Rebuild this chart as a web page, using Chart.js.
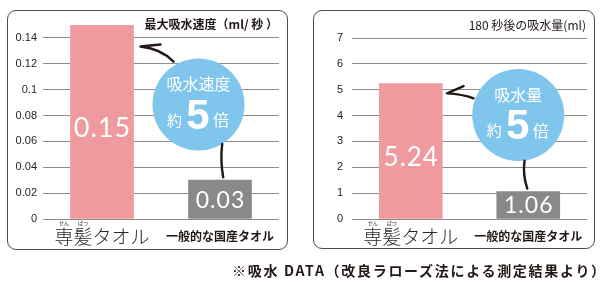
<!DOCTYPE html>
<html><head><meta charset="utf-8">
<script src="https://cdn.jsdelivr.net/npm/chart.js@4"></script>
<style>
html,body{margin:0;padding:0;background:#fff;}
body{width:600px;height:284px;position:relative;overflow:hidden;font-family:"Noto Sans CJK JP",sans-serif;}
.panel{position:absolute;border:1.5px solid #4d4d4d;border-radius:9px;box-sizing:border-box;}
.wrap{position:absolute;left:0;top:0;width:600px;height:284px;}
#note{position:absolute;left:232px;top:261px;font-weight:bold;font-size:14px;font-family:"Noto Sans CJK JP",sans-serif;letter-spacing:1.7px;color:#231815;white-space:nowrap;line-height:18px;}
</style></head><body>
<div class="panel" style="left:7px;top:10px;width:281px;height:240px"></div>
<div class="panel" style="left:313px;top:10px;width:282px;height:239px"></div>
<div class="wrap"><canvas id="c1" width="600" height="284"></canvas></div>
<div class="wrap"><canvas id="c2" width="600" height="284"></canvas></div>
<div id="note">※吸水 DATA（改良ラローズ法による測定結果より）</div>
<script>
// ---- data ----
const categories = ['専髪タオル', '一般的な国産タオル'];
const furigana = ['せん', 'ぱつ'];
const speedValues = [0.15, 0.03];          // 最大吸水速度 (ml/秒)
const amountValues = [5.24, 1.06];         // 180秒後の吸水量 (ml)
const speedTicks = [0, 0.02, 0.04, 0.06, 0.08, 0.1, 0.12, 0.14];
const amountTicks = [0, 1, 2, 3, 4, 5, 6, 7];
const speedTitle = '最大吸水速度（ml/ 秒 ）';
const amountTitle = '180 秒後の吸水量(ml)';
const speedBadge = ['吸水速度', '約', '5', '倍'];
const amountBadge = ['吸水量', '約', '5', '倍'];

const PINK = '#ef9a9e', GRAY = '#898989', BLUE = '#80c6ec', INK = '#231815';
const CJK = '"Noto Sans CJK JP", sans-serif';

const decor = {
  id: 'decor',
  afterDatasetsDraw(chart, args, o) {
    const ctx = chart.ctx;
    const meta = chart.getDatasetMeta(0);
    const b1 = meta.data[0], b2 = meta.data[1];
    const ys = chart.scales.y, ca = chart.chartArea;
    const vals = chart.data.datasets[0].data;
    const labels = chart.data.labels;
    ctx.save();
    // title
    ctx.fillStyle = INK;
    ctx.font = o.titleFont;
    ctx.textAlign = 'right'; ctx.textBaseline = 'middle';
    ctx.fillText(o.title, ca.right - 1, ys.getPixelForValue(o.topTick) - 13);

    // value labels
    ctx.fillStyle = '#fff'; ctx.textAlign = 'center';
    if ('letterSpacing' in ctx) ctx.letterSpacing = '1px';
    ctx.font = o.valueSizes[0] + 'px Lato, sans-serif';
    ctx.fillText(vals[0].toFixed(2), b1.x + 0.5, (b1.y + b1.base) / 2 + 6.5);
    ctx.font = o.valueSizes[1] + 'px Lato, sans-serif';
    ctx.fillText(vals[1].toFixed(2), b2.x + 0.5, (b2.y + b2.base) / 2 + 1);
    if ('letterSpacing' in ctx) ctx.letterSpacing = '0px';

    // category labels
    ctx.fillStyle = '#2a2a2a';
    ctx.font = '300 19px ' + CJK;
    ctx.textBaseline = 'alphabetic';
    ctx.fillText(labels[0], b1.x, ca.bottom + 25);
    const w = ctx.measureText(labels[0]).width, x0 = b1.x - w / 2;
    ctx.font = '5px ' + CJK;
    ctx.fillText(furigana[0], x0 + w * 0.1, ca.bottom + 6);
    ctx.fillText(furigana[1], x0 + w * 0.3, ca.bottom + 6);
    ctx.font = 'bold 12px ' + CJK;
    ctx.textBaseline = 'middle';
    ctx.fillStyle = INK;
    ctx.fillText(labels[1], b2.x, ca.bottom + 17);

    // badge circle
    const bd = o.badge;
    const cx = b2.x + bd.dx, cy = ys.getPixelForValue(bd.yValue), r = bd.r;
    ctx.fillStyle = BLUE;
    ctx.beginPath(); ctx.arc(cx, cy, r, 0, Math.PI * 2); ctx.fill();

    // arrow to bar 1
    const bx = b1.x + b1.width / 2;
    const a = o.arrow;
    ctx.strokeStyle = INK; ctx.lineWidth = 2.4; ctx.lineCap = 'round'; ctx.lineJoin = 'round';
    ctx.beginPath();
    ctx.moveTo(bx + a.arm[0], cy + a.arm[1]);
    ctx.lineTo(bx + a.tip[0], cy + a.tip[1]);
    ctx.quadraticCurveTo(bx + a.ctrl[0], cy + a.ctrl[1], bx + a.end[0], cy + a.end[1]);
    ctx.stroke();

    // connector to bar 2
    const c = o.conn;
    const sx = b2.x + c.sx, sy = cy + Math.sqrt(Math.max(0, r * r - (sx - cx) * (sx - cx)));
    const ex = b2.x + c.ex, ey = b2.y - 3;
    ctx.beginPath();
    ctx.moveTo(sx, sy);
    ctx.quadraticCurveTo(Math.min(sx, ex) - 2, (sy + ey) / 2, ex, ey);
    ctx.stroke();

    // badge text
    const t = o.badgeText;
    ctx.fillStyle = '#fff'; ctx.textAlign = 'center'; ctx.textBaseline = 'middle';
    ctx.font = '16px ' + CJK;
    ctx.fillText(t[0], cx, cy - 20.5);
    ctx.font = '15px ' + CJK;
    ctx.fillText(t[1], cx - 24, cy + 15.5);
    ctx.font = '16px ' + CJK;
    ctx.fillText(t[3], cx + 22.5, cy + 15.5);
    ctx.font = 'bold 42px "Liberation Sans", Arial, sans-serif';
    ctx.textBaseline = 'alphabetic';
    ctx.fillText(t[2], cx - 0.5, cy + 24);
    ctx.restore();
  }
};

function makeChart(id, values, ticks, max, padding, yWidth, tickPad, deco) {
  return new Chart(document.getElementById(id), {
    type: 'bar',
    data: {
      labels: categories,
      datasets: [{ data: values, backgroundColor: [PINK, GRAY], borderWidth: 0, barThickness: 63 }]
    },
    options: {
      responsive: false, animation: false, devicePixelRatio: 1,
      layout: { padding },
      plugins: { legend: { display: false }, tooltip: { enabled: false }, decor: deco },
      scales: {
        x: { display: false },
        y: {
          min: 0, max,
          afterBuildTicks(axis) { axis.ticks = ticks.map(v => ({ value: v })); },
          afterFit(s) { s.width = yWidth; },
          grid: { color: '#8c8c8c', lineWidth: 1, drawTicks: false },
          border: { display: false },
          ticks: {
            padding: tickPad, color: '#1e1e1e',
            font: { size: 11, family: '"Liberation Sans", Arial, sans-serif' },
            callback: v => String(+Number(v).toFixed(2))
          }
        }
      }
    },
    plugins: [decor]
  });
}

makeChart('c1', speedValues, speedTicks, 0.15,
  { left: 3, right: 321, top: 25, bottom: 65 }, 40, 6,
  { title: speedTitle, titleFont: 'bold 12px ' + CJK, topTick: 0.14, valueSizes: [27, 23],
    badge: { dx: -21.5, yValue: 0.0885, r: 46 }, badgeText: speedBadge,
    arrow: { tip: [7, -58], arm: [27, -60], ctrl: [27, -56], end: [40, -43] },
    conn: { sx: 2.2, ex: 3.2 } });

makeChart('c2', amountValues, amountTicks, 7,
  { left: 312, right: 13, top: 38, bottom: 65 }, 40, 9,
  { title: amountTitle, titleFont: '12px ' + CJK, topTick: 7, valueSizes: [26, 23],
    badge: { dx: -10, yValue: 4.02, r: 46 }, badgeText: amountBadge,
    arrow: { tip: [4.7, -21.7], arm: [21.3, -29], ctrl: [20, -21], end: [31.3, -16.7] },
    conn: { sx: -3.7, ex: -1 } });
</script>
</body></html>
